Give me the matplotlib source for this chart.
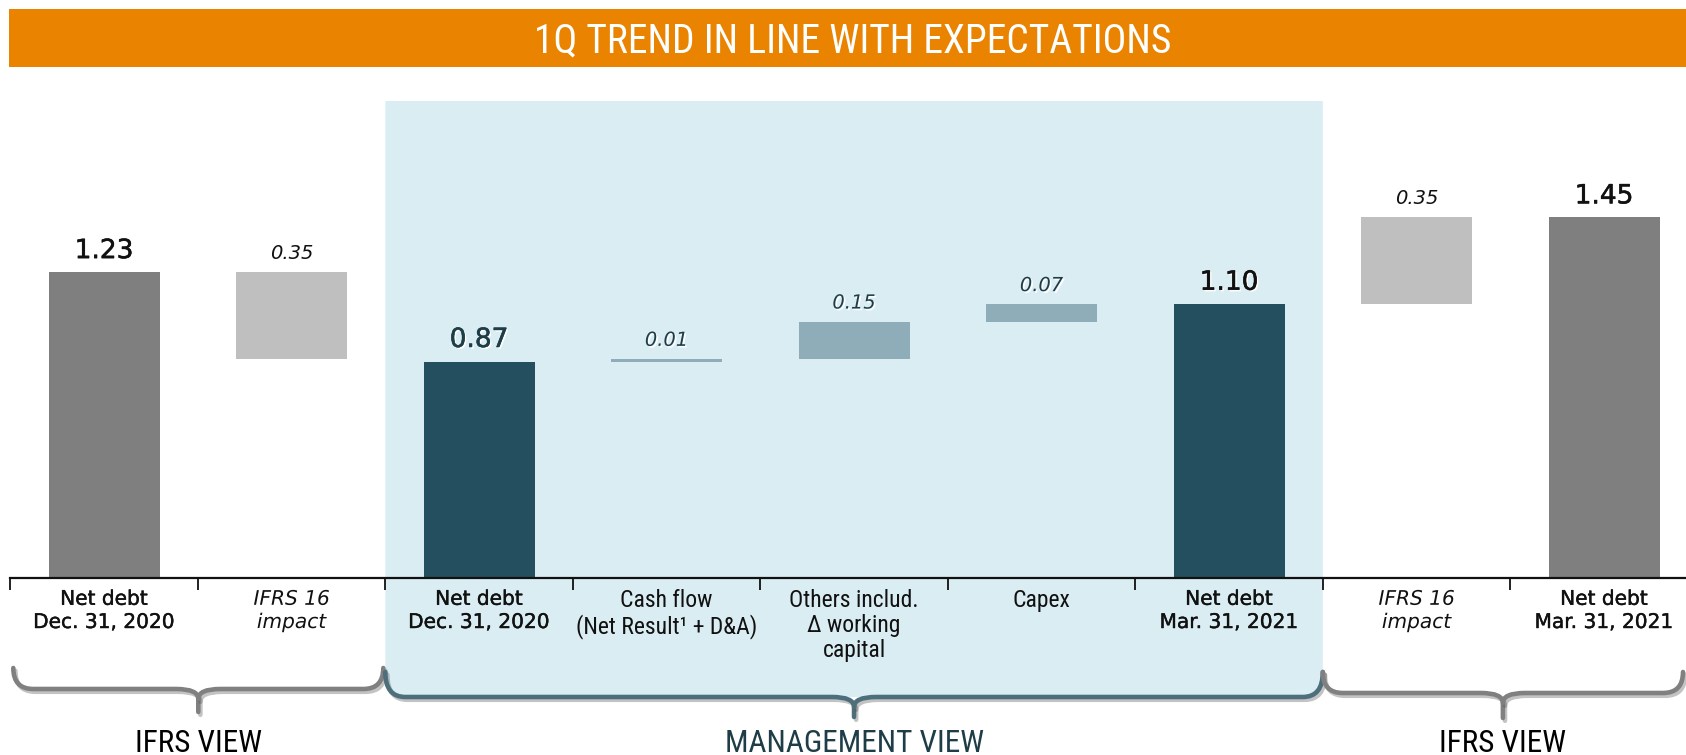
import matplotlib
matplotlib.use("Agg")
import matplotlib.pyplot as plt
from matplotlib import font_manager
from matplotlib.path import Path
from matplotlib.patches import PathPatch, Rectangle
import matplotlib.patheffects as pe

# ---------------- data ----------------
title = "1Q TREND IN LINE WITH EXPECTATIONS"
categories = ["Net debt\nDec. 31, 2020", "IFRS 16\nimpact", "Net debt\nDec. 31, 2020",
              "Cash flow\n(Net Result\u00b9 + D&A)", "Others includ.\n\u0394 working\ncapital",
              "Capex", "Net debt\nMar. 31, 2021", "IFRS 16\nimpact", "Net debt\nMar. 31, 2021"]
kinds = ["total", "ifrs", "mtotal", "change", "change", "change", "mtotal", "ifrs", "total"]
values = [1.23, -0.35, 0.87, 0.01, 0.15, 0.07, 1.10, 0.35, 1.45]
groups = [("IFRS VIEW", 0, 2), ("MANAGEMENT VIEW", 2, 7), ("IFRS VIEW", 7, 9)]

# ---------------- style ----------------
C_TOTAL = "#7f7f7f"
C_IFRS = "#bfbfbf"
C_MTOTAL = "#234f5e"
C_CHANGE = "#8fadb8"
C_PANEL = "#daedf3"
C_ORANGE = "#e98300"
C_TEAL_BR = "#4d6f7c"
C_GRAY_BR = "#808080"
C_MTEXT = "#1f3d47"

available = {f.name for f in font_manager.fontManager.ttflist}
def pick(*names):
    for n in names:
        if n in available:
            return n
    return "DejaVu Sans"
NARROW = pick("Liberation Sans Narrow", "Roboto Condensed", "Open Sans Condensed", "Liberation Sans")
MAIN = "DejaVu Sans"

W, H = 1686, 755
X0, STEP = 10.3, 187.5        # pixel layout of category slots
BASE_Y, TOP_Y = 578, 101      # pixel rows of axis line and panel top
PX_PER_UNIT = 248.8

fig = plt.figure(figsize=(W / 100, H / 100), dpi=100)

# background overlay in pixel coordinates
bg = fig.add_axes([0, 0, 1, 1], zorder=0)
bg.set_xlim(0, W)
bg.set_ylim(H, 0)
bg.axis("off")

def slot_x(k):
    return X0 + k * STEP

def bolden(color, w=0.3, white=False):
    fx = []
    if white:
        fx.append(pe.SimplePatchShadow(offset=(1.2, -1.2), shadow_rgbFace="white", alpha=1.0))
    if w > 0:
        fx.append(pe.Stroke(linewidth=w, foreground=color))
    fx.append(pe.Normal())
    return fx

# banner
bg.add_patch(Rectangle((8.6, 8.6), W - 8.6, 58, facecolor=C_ORANGE, edgecolor="none"))
bg.text(853, 52.5, title, color="white", fontsize=28.5, family=NARROW, ha="center", va="baseline")

def brace_paths(xl, xr, y_top, y_flat, y_tip, r=20, r2=22, d=10):
    xm = (xl + xr) / 2
    left = Path([(xl, y_top), (xl, y_flat), (xl + r, y_flat), (xm - r2, y_flat),
                 (xm, y_flat), (xm, y_flat + d), (xm, y_tip)],
                [Path.MOVETO, Path.CURVE3, Path.CURVE3, Path.LINETO,
                 Path.CURVE3, Path.CURVE3, Path.LINETO])
    right = Path([(xr, y_top), (xr, y_flat), (xr - r, y_flat), (xm + r2, y_flat),
                  (xm, y_flat), (xm, y_flat + d)],
                 [Path.MOVETO, Path.CURVE3, Path.CURVE3, Path.LINETO,
                  Path.CURVE3, Path.CURVE3])
    return [left, right], xm

# management panel
pl, pr = slot_x(2), slot_x(7)
py_top, py_flat, r = 672, 697, 22
panel = Path([(pl, TOP_Y), (pr, TOP_Y), (pr, py_top), (pr, py_flat), (pr - r, py_flat),
              (pl + r, py_flat), (pl, py_flat), (pl, py_top), (pl, TOP_Y)],
             [Path.MOVETO, Path.LINETO, Path.LINETO, Path.CURVE3, Path.CURVE3,
              Path.LINETO, Path.CURVE3, Path.CURVE3, Path.CLOSEPOLY])
bg.add_patch(PathPatch(panel, facecolor=C_PANEL, edgecolor="none"))

shadow = [pe.SimpleLineShadow(offset=(1.5, -2.0), shadow_color="#555555", alpha=0.35), pe.Normal()]
brace_specs = [
    (slot_x(0) + 3, slot_x(2) - 2, 668, 689, 712, C_GRAY_BR, "#000000"),
    (slot_x(2), slot_x(7), 672, 697, 717, C_TEAL_BR, "#1f3d47"),
    (slot_x(7), W - 3, 672, 693, 718, C_GRAY_BR, "#000000"),
]
for (name, a, b), (xl, xr, yt, yf, ytip, col, tcol) in zip(groups, brace_specs):
    paths, xm = brace_paths(xl, xr, yt, yf, ytip)
    for p in paths:
        bg.add_patch(PathPatch(p, facecolor="none", edgecolor=col, lw=3.3,
                               capstyle="round", joinstyle="round", path_effects=shadow))
    bg.text(xm, 752, name, family=NARROW, fontsize=22.5, color=tcol, ha="center", va="baseline")

# ---------------- main chart ----------------
ax_w = W - X0
ax = fig.add_axes([X0 / W, (H - BASE_Y) / H, ax_w / W, (BASE_Y - TOP_Y) / H], zorder=1)
ax.patch.set_alpha(0)
ax.set_xlim(0, ax_w / STEP)
ax.set_ylim(0, (BASE_Y - TOP_Y) / PX_PER_UNIT)
for s in ("top", "left", "right"):
    ax.spines[s].set_visible(False)
ax.spines["bottom"].set_linewidth(1.6)
ax.spines["bottom"].set_color("#111111")
ax.set_xticks(range(0, 9))
ax.tick_params(axis="x", direction="out", length=8.5, width=1.3, color="#111111", labelbottom=False)
ax.set_yticks([])

color_of = {"total": C_TOTAL, "ifrs": C_IFRS, "mtotal": C_MTOTAL, "change": C_CHANGE}
running = 0.0
for i, (cat, kind, v) in enumerate(zip(categories, kinds, values)):
    x = i + 0.5
    if kind in ("total", "mtotal"):
        bottom, height = 0.0, v
        running = v
    else:
        bottom = running if v > 0 else running + v
        height = abs(v)
        running += v
    ax.bar(x, height, bottom=bottom, width=0.592, color=color_of[kind], linewidth=0)
    top = bottom + height
    lab = f"{abs(v):.2f}"
    if kind == "total":
        ax.annotate(lab, (x, top), xytext=(0, 10), textcoords="offset points", ha="center",
                    va="baseline", fontsize=19, family=MAIN, color="#111111",
                    path_effects=bolden("#111111", 0.4))
    elif kind == "mtotal":
        col = C_MTEXT if i == 2 else "#111111"
        ax.annotate(lab, (x, top), xytext=(0, 10.5), textcoords="offset points", ha="center",
                    va="baseline", fontsize=19, family=MAIN, color=col,
                    path_effects=bolden(col, 0.4, white=True))
    elif kind == "ifrs":
        ax.annotate(lab, (x, top), xytext=(0, 9.5), textcoords="offset points", ha="center",
                    va="baseline", fontsize=14, family=MAIN, style="italic", color="#111111")
    else:
        ax.annotate(lab, (x, top), xytext=(0, 9.5), textcoords="offset points", ha="center",
                    va="baseline", fontsize=14, family=MAIN, style="italic", color=C_MTEXT,
                    path_effects=bolden(C_MTEXT, 0.0, white=True))

    # category label
    if kind == "change":
        ax.annotate(cat, (x, 0), xytext=(0, -8), textcoords="offset points", ha="center",
                    va="top", fontsize=17, family=NARROW, color="#111111", linespacing=1.12)
    else:
        ax.annotate(cat, (x, 0), xytext=(0, -8.5), textcoords="offset points", ha="center",
                    va="top", fontsize=14.5, family=MAIN, color="#111111", linespacing=1.28,
                    style="italic" if kind == "ifrs" else "normal",
                    path_effects=bolden("#111111", 0.3 if kind != "ifrs" else 0.0))

fig.savefig("out.png", dpi=100)
